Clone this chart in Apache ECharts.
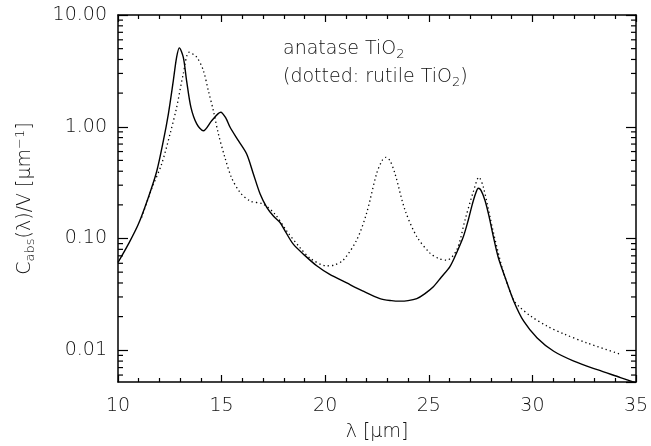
<!DOCTYPE html>
<html><head><meta charset="utf-8">
<script src="https://cdn.jsdelivr.net/npm/echarts@6/dist/echarts.min.js"></script>
<style>html,body{margin:0;padding:0;background:#fff}#c{width:651px;height:446px}</style>
</head><body><div id="c"></div>
<script>
// ---- data ----
const lambdaAnatase = [10.0, 10.5, 10.98, 11.46, 11.87, 12.19, 12.43, 12.67, 12.83, 12.96, 13.15, 13.31, 13.52, 13.8, 14.12, 14.52, 14.96, 15.2, 15.41, 15.81, 16.21, 16.53, 16.86, 17.18, 17.5, 17.82, 18.06, 18.46, 19.0, 19.59, 20.2, 21.04, 21.8, 22.64, 23.2, 23.6, 24.0, 24.42, 24.8, 25.22, 25.6, 26.02, 26.35, 26.67, 26.9, 27.07, 27.25, 27.39, 27.52, 27.71, 27.9, 28.11, 28.35, 28.69, 29.1, 29.58, 30.23, 31.03, 32.0, 33.13, 34.25, 35.0];
const cAnatase = [0.061, 0.089, 0.134, 0.232, 0.40, 0.75, 1.30, 2.59, 4.19, 5.08, 4.19, 2.59, 1.49, 1.06, 0.92, 1.13, 1.35, 1.2, 0.99, 0.75, 0.57, 0.38, 0.25, 0.19, 0.159, 0.139, 0.117, 0.089, 0.071, 0.057, 0.048, 0.040, 0.034, 0.029, 0.0278, 0.0275, 0.0278, 0.029, 0.032, 0.037, 0.045, 0.056, 0.075, 0.104, 0.145, 0.193, 0.25, 0.282, 0.27, 0.22, 0.16, 0.105, 0.068, 0.0445, 0.0275, 0.0182, 0.0129, 0.0098, 0.0080, 0.0067, 0.0057, 0.0051];
const lambdaRutile = [11.14, 11.63, 12.1, 12.51, 12.83, 13.15, 13.43, 13.8, 14.12, 14.36, 14.6, 14.84, 15.16, 15.48, 15.88, 16.37, 17.01, 17.58, 18.14, 18.78, 19.3, 20.07, 20.45, 20.87, 21.52, 22.0, 22.48, 22.75, 22.93, 23.12, 23.37, 23.85, 24.42, 25.06, 25.5, 25.86, 26.35, 26.75, 27.15, 27.42, 27.63, 28.11, 28.6, 29.1, 29.34, 29.92, 30.72, 31.52, 32.65, 34.18];
const cRutile = [0.154, 0.28, 0.46, 0.86, 1.49, 2.97, 4.64, 4.19, 3.18, 2.1, 1.4, 0.87, 0.53, 0.35, 0.26, 0.217, 0.203, 0.165, 0.117, 0.083, 0.066, 0.057, 0.058, 0.064, 0.097, 0.169, 0.38, 0.5, 0.533, 0.5, 0.38, 0.18, 0.104, 0.074, 0.066, 0.064, 0.079, 0.147, 0.263, 0.353, 0.29, 0.115, 0.05, 0.028, 0.0248, 0.0202, 0.0164, 0.014, 0.0116, 0.0093];
const xTicks = [10, 15, 20, 25, 30, 35];
const yMajorTicks = [0.01, 0.1, 1, 10];
const yMinorTicks = [0.006, 0.007, 0.008, 0.009, 0.02, 0.03, 0.04, 0.05, 0.06, 0.07, 0.08, 0.09, 0.2, 0.3, 0.4, 0.5, 0.6, 0.7, 0.8, 0.9, 2, 3, 4, 5, 6, 7, 8, 9];
const xRange = [10, 35];
const yRange = [0.0052, 10];

const FONT = 'DejaVu Sans';
const FW = 200;
const TXT = '#111';
const chart = echarts.init(document.getElementById('c'), null, {renderer: 'canvas'});
const axisLine = {show: true, lineStyle: {color: '#000', width: 1.5}};
function xAx(pos, showLabel) {
  return {
    type: 'value', position: pos, min: xRange[0], max: xRange[1], interval: 5,
    axisLine: axisLine,
    axisTick: {show: true, inside: true, length: 7, lineStyle: {color: '#000', width: 1.2}},
    minorTick: {show: true, splitNumber: 5, length: 4, lineStyle: {color: '#000', width: 1.2}},
    splitLine: {show: false},
    axisLabel: {show: showLabel, margin: 15, fontFamily: FONT, fontWeight: FW, fontSize: 19, color: TXT,
      formatter: v => xTicks.includes(v) ? String(v) : ''},
    name: showLabel ? '{t|λ [μm]}' : '', nameLocation: 'middle', nameGap: 41,
    nameTextStyle: {rich: {t: {fontFamily: FONT, fontWeight: FW, fontSize: 19, color: TXT}}}
  };
}
function yAx(pos, showLabel) {
  return {
    type: 'log', logBase: 10, position: pos, min: yRange[0], max: yRange[1],
    axisLine: axisLine,
    axisTick: {show: true, inside: true, length: 10, lineStyle: {color: '#000', width: 1.2}},
    splitLine: {show: false},
    axisLabel: {show: showLabel, showMinLabel: false, margin: 11, fontFamily: FONT, fontWeight: FW, fontSize: 19, color: TXT,
      formatter: v => { for (const t of yMajorTicks) if (Math.abs(v - t) / t < 1e-6) return t.toFixed(2); return ''; }},
    name: showLabel ? '{t|C}{s|abs}{t|(λ)/V [μm}{p|−1}{t|]}' : '', nameLocation: 'middle', nameGap: 81, nameRotate: 90,
    nameTextStyle: {rich: {
      t: {fontFamily: FONT, fontWeight: FW, fontSize: 19, color: TXT},
      s: {fontFamily: FONT, fontWeight: FW, fontSize: 13, color: TXT, verticalAlign: 'bottom', lineHeight: 10, padding: [8, 0, 0, 0]},
      p: {fontFamily: FONT, fontWeight: FW, fontSize: 13, color: TXT, verticalAlign: 'top', padding: [0, 0, 10, 0]}
    }}
  };
}
const pairs = (xs, ys) => xs.map((x, i) => [x, ys[i]]);
chart.setOption({
  animation: false,
  grid: {left: 118, right: 15, top: 15, bottom: 64, containLabel: false, outerBoundsMode: 'none'},
  xAxis: [xAx('bottom', true), xAx('top', false)],
  yAxis: [yAx('left', true), yAx('right', false)],
  series: [
    {type: 'line', xAxisIndex: 0, yAxisIndex: 0, data: pairs(lambdaAnatase, cAnatase), smooth: 0.3, showSymbol: false,
     lineStyle: {color: '#000', width: 1.4}},
    {type: 'line', xAxisIndex: 0, yAxisIndex: 0, data: pairs(lambdaRutile, cRutile), smooth: 0.3, showSymbol: false,
     lineStyle: {color: '#000', width: 1.3, type: [1.3, 3]}},
    {type: 'custom', xAxisIndex: 0, yAxisIndex: 0, silent: true, z: 5,
     data: yMinorTicks.map(v => [xRange[0], v]),
     renderItem: (params, api) => {
       const v = api.value(1);
       const a = api.coord([xRange[0], v]);
       const b = api.coord([xRange[1], v]);
       const st = {stroke: '#000', lineWidth: 1.2};
       return {type: 'group', children: [
         {type: 'line', shape: {x1: a[0], y1: a[1], x2: a[0] + 5, y2: a[1]}, style: st},
         {type: 'line', shape: {x1: b[0] - 5, y1: b[1], x2: b[0], y2: b[1]}, style: st}
       ]};
     }}
  ],
  graphic: [
    {type: 'text', left: 283, top: 40, style: {text: '{t|anatase TiO}{s|2}', rich: {
      t: {fontFamily: FONT, fontWeight: FW, fontSize: 19, fill: TXT}, s: {fontFamily: FONT, fontWeight: FW, fontSize: 13, fill: TXT, padding: [10, 0, 0, 0]}}}},
    {type: 'text', left: 283, top: 68, style: {text: '{t|(dotted: rutile TiO}{s|2}{t|)}', rich: {
      t: {fontFamily: FONT, fontWeight: FW, fontSize: 19, fill: TXT}, s: {fontFamily: FONT, fontWeight: FW, fontSize: 13, fill: TXT, padding: [10, 0, 0, 0]}}}}
  ]
});
</script></body></html>
